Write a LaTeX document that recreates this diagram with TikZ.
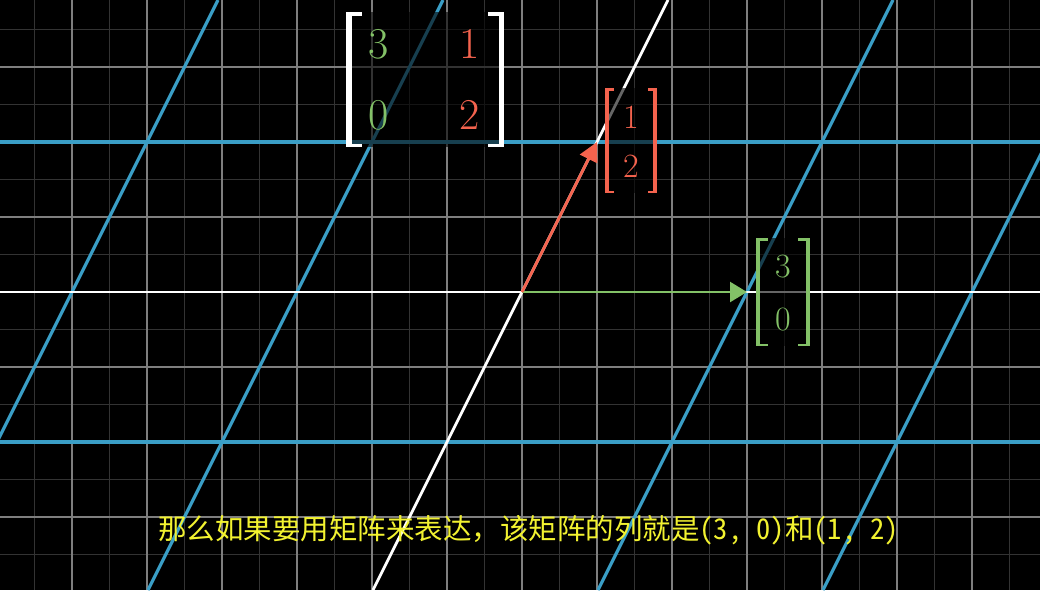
\documentclass[tikz,border=0pt]{standalone}
\usepackage{fontspec}
\newfontfamily\cjk{Noto Sans CJK SC}
\newfontfamily\cjkhw[RawFeature=+hwid]{Noto Sans CJK SC}
\usetikzlibrary{arrows.meta}
\definecolor{bgminor}{HTML}{333333}
\definecolor{bgmajor}{HTML}{7E7E7E}
\definecolor{tblue}{HTML}{3A9EC6}
\definecolor{vgreen}{HTML}{83C167}
\definecolor{vred}{HTML}{F4634E}
\definecolor{subyellow}{HTML}{F2F230}
% color, left, right, top, bottom, vertical thickness, serif length, serif thickness
\newcommand{\bracketpair}[8]{%
  \fill[#1] (#2,#4) rectangle (#2+#6,#5);
  \fill[#1] (#2,#4) rectangle (#2+#7,#4+#8);
  \fill[#1] (#2,#5-#8) rectangle (#2+#7,#5);
  \fill[#1] (#3-#6,#4) rectangle (#3,#5);
  \fill[#1] (#3-#7,#4) rectangle (#3,#4+#8);
  \fill[#1] (#3-#7,#5-#8) rectangle (#3,#5);
}
\begin{document}
\begin{tikzpicture}[x=1pt,y=-1pt,
  minorline/.style={bgminor,line width=1.1pt},
  majorline/.style={bgmajor,line width=1.6pt},
  gridblue/.style={tblue,line width=3.2pt},
  axiswhite/.style={white,line width=2.8pt},
  labelbg/.style={fill=black,fill opacity=0.6},
  vecgreen/.style={vgreen,line width=2.4pt,-{Triangle[length=17pt,width=20pt]}},
  vecred/.style={vred,line width=2.8pt,-{Triangle[length=19pt,width=19pt]}},
  bigentry/.style={inner sep=0pt,font=\fontsize{44}{44}\selectfont},
  smallentry/.style={inner sep=0pt,font=\fontsize{34}{34}\selectfont},
  subtitle/.style={inner sep=0pt,anchor=base,text=subyellow,font=\cjk\fontsize{28.5}{28.5}\selectfont}]
\fill[black] (0,0) rectangle (1040,590);
\useasboundingbox (0,0) rectangle (1040,590);
\begin{scope}
\clip (0,0) rectangle (1040,590);
\foreach \i in {-13,-11,...,13} {\draw[minorline] (522+37.5*\i,0) -- (522+37.5*\i,590);}
\foreach \j in {-7,-5,...,7} {\draw[minorline] (0,292+37.5*\j) -- (1040,292+37.5*\j);}
\foreach \i in {-7,...,7} {\draw[majorline] (522+75*\i,0) -- (522+75*\i,590);}
\foreach \j in {-4,...,4} {\draw[majorline] (0,292+75*\j) -- (1040,292+75*\j);}
\foreach \j in {-1,1} {\draw[gridblue] (0,292+150*\j) -- (1040,292+150*\j);}
\foreach \k in {-3,-2,-1,1,2,3} {\draw[gridblue] (522+225*\k+146,0) -- (522+225*\k-149,590);}
\draw[axiswhite] (0,292) -- (1040,292);
\draw[axiswhite] (668,0) -- (373,590);
\end{scope}
% basis vectors
\coordinate (O) at (522,292);
\coordinate (I) at (747,292);
\coordinate (J) at (597,142);
\draw[vecgreen] (O) -- (I);
\draw[vecred] (O) -- (J);
% matrix
\fill[labelbg] (346,12) rectangle (504,147);
\bracketpair{white}{346}{504}{12}{147}{5.5}{16}{3.5}
\node[bigentry,text=vgreen] (m11) at (379,44) {3};
\node[bigentry,text=vred] (m12) at (470,44) {1};
\node[bigentry,text=vgreen] (m21) at (379,115) {0};
\node[bigentry,text=vred] (m22) at (470,115) {2};
% label of j
\fill[labelbg] (605,88) rectangle (657,193);
\bracketpair{vred}{605}{657}{88}{193}{4}{9}{2.5}
\node[smallentry,text=vred] (j1) at (631,117) {1};
\node[smallentry,text=vred] (j2) at (631,166) {2};
% label of i
\fill[labelbg] (756,238) rectangle (810,346);
\bracketpair{vgreen}{756}{810}{238}{346}{3.8}{12}{2.5}
\node[smallentry,text=vgreen] (i1) at (783,267) {3};
\node[smallentry,text=vgreen] (i2) at (783,320) {0};
% subtitle
\node[subtitle] (sub) at (528.5,539) {那么如果要用矩阵来表达，该矩阵的列就是{\cjkhw(3, 0)}和{\cjkhw(1, 2)}};
\end{tikzpicture}
\end{document}
